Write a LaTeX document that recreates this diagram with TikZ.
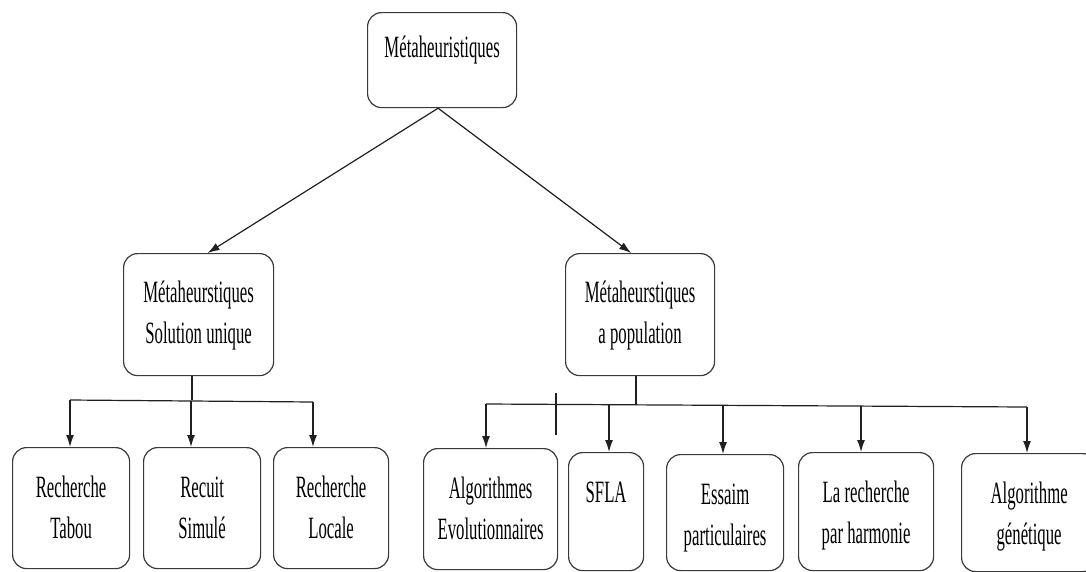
\documentclass[tikz,border=0pt]{standalone}
\usepackage{fontspec}
\setmainfont{Liberation Serif}[FakeStretch=0.54]
\usetikzlibrary{arrows.meta}
\definecolor{boxline}{HTML}{3A3A3A}
\definecolor{wire}{HTML}{202020}

\begin{document}
\begin{tikzpicture}[
  x=1pt, y=-1pt,
  font=\fontsize{31}{41}\selectfont,
  box/.style={rectangle, rounded corners=14pt, draw=boxline, line width=1.2pt,
              fill=white, align=center, anchor=north west, inner xsep=0pt,
              inner ysep=0pt, text height=91pt},
  link/.style={draw=wire, line width=1.2pt},
  arrow/.style={link, -{Latex[length=12pt, width=8pt]}}
]
  \useasboundingbox (0,0) rectangle (1086,571);

  % --- root and the two families ---
  \node[box, minimum width=149pt, text height=45pt, text depth=50pt] (meta) at (367,12) {Métaheuristiques};
  \node[box, minimum width=150pt, text height=90pt, text depth=32pt] (sol) at (123,253) {Métaheurstiques\\Solution unique};
  \node[box, minimum width=149pt, text height=90pt, text depth=32pt] (pop) at (565,253) {Métaheurstiques\\a population};

  % --- single-solution methods ---
  \node[box, minimum width=117pt, text depth=30pt] (tabou)  at (12,447)  {Recherche\\Tabou};
  \node[box, minimum width=117pt, text depth=30pt] (recuit) at (143,447) {Recuit\\Simulé};
  \node[box, minimum width=115pt, text depth=30pt] (locale) at (273,447) {Recherche\\Locale};

  % --- population methods ---
  \node[box, minimum width=134pt, text depth=30pt] (evol)   at (423,448) {Algorithmes\\Evolutionnaires};
  \node[box, minimum width=75pt, text height=50pt, text depth=68pt] (sfla) at (568,452) {SFLA};
  \node[box, minimum width=117pt, text depth=25pt] (essaim) at (666,454) {Essaim\\particulaires};
  \node[box, minimum width=135pt, text depth=27pt] (harmo)  at (798,452) {La recherche\\par harmonie};
  \node[box, minimum width=135pt, text depth=27pt] (gene)   at (961,453) {Algorithme\\génétique};

  % --- root edges ---
  \draw[arrow] ([xshift=-4pt]meta.south) -- ([xshift=9pt]sol.north);
  \draw[arrow] ([xshift=-4pt]meta.south) -- ([xshift=-9pt]pop.north);

  % --- left bus ---
  \coordinate (busL)  at (192,400);
  \coordinate (dropA) at (70,400);
  \coordinate (dropB) at (191,401);
  \coordinate (dropC) at (313,402);
  \draw[link] (sol.south -| busL) -- (busL);
  \draw[link] (dropA) -- (dropC);
  \draw[arrow] (dropA) -- (dropA |- tabou.north);
  \draw[arrow] (dropB) -- (dropB |- recuit.north);
  \draw[arrow] (dropC) -- (dropC |- locale.north);

  % --- right bus ---
  \coordinate (busR)  at (636,405);
  \coordinate (dropD) at (486,404);
  \coordinate (dropE) at (609,405);
  \coordinate (dropF) at (723,405);
  \coordinate (dropG) at (861,406);
  \coordinate (dropH) at (1027,407);
  \draw[link] (pop.south -| busR) -- (busR);
  \draw[link] (dropD) -- (dropH);
  \draw[arrow] (dropD) -- (dropD |- evol.north);
  \draw[arrow] (dropE) -- (dropE |- sfla.north);
  \draw[arrow] (dropF) -- (dropF |- essaim.north);
  \draw[arrow] (dropG) -- (dropG |- harmo.north);
  \draw[arrow] (dropH) -- (dropH |- gene.north);

  % stray tick on the right bus
  \coordinate (tickA) at (556,393);
  \coordinate (tickB) at (556,435);
  \draw[link, line width=1.6pt] (tickA) -- (tickB);
\end{tikzpicture}
\end{document}
